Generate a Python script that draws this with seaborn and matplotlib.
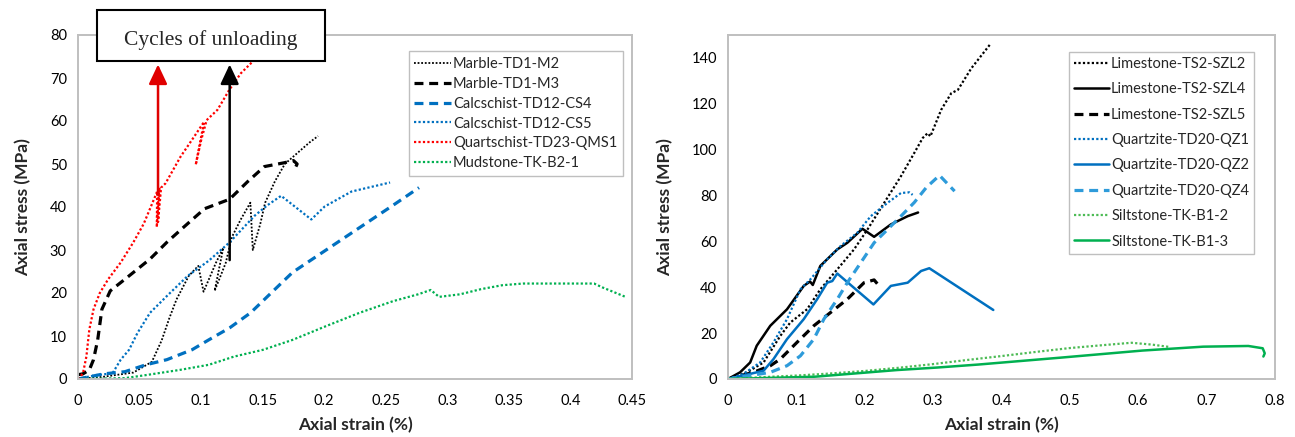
import numpy as np
import matplotlib
matplotlib.use("Agg")
import matplotlib.pyplot as plt
import seaborn as sns
from matplotlib.patches import Rectangle
from matplotlib.ticker import FuncFormatter

# ---- left panel: strain (%) / stress (MPa) ----
m2_strain = [0, 0.02, 0.045, 0.06, 0.068, 0.074, 0.08, 0.09, 0.0977, 0.102, 0.112, 0.118, 0.111,
             0.12, 0.125, 0.132, 0.14, 0.142, 0.148, 0.152, 0.16, 0.168, 0.178, 0.188, 0.195]
m2_stress = [0, 0.5, 1.5, 4, 9, 14, 18.5, 24, 26.3, 20.3, 27, 30.5, 20.5,
             27, 33, 37, 41, 30, 36, 41, 46, 50, 52.5, 55, 56.5]

m3_strain = [0, 0.004, 0.0092, 0.0126, 0.016, 0.0194, 0.0262, 0.0381, 0.0585, 0.0722, 0.0858,
             0.1028, 0.1231, 0.1378, 0.1514, 0.1677, 0.175, 0.178, 0.176]
m3_stress = [1.0, 1.2, 2.1, 4.5, 9.1, 16.2, 20.5, 23.2, 27.9, 31.8, 35.3,
             39.6, 41.8, 45.9, 49.4, 50.3, 50.8, 50.0, 48.8]

cs4_strain = [0, 0.0211, 0.0381, 0.0551, 0.0722, 0.0926, 0.1062, 0.1232, 0.1402, 0.1572,
              0.1743, 0.1947, 0.2151, 0.2355, 0.2559, 0.2770]
cs4_stress = [0, 1.2, 1.7, 3.3, 4.5, 6.8, 9.1, 11.9, 15.4, 20.1,
              24.8, 28.7, 32.6, 36.5, 40.4, 44.5]

cs5_strain = [0, 0.0143, 0.028, 0.0347, 0.0415, 0.0483, 0.0585, 0.0722, 0.0892, 0.1062, 0.1232,
              0.1436, 0.1538, 0.165, 0.1895, 0.2003, 0.2222, 0.2535]
cs5_stress = [0, 0.9, 1.3, 4.5, 6.8, 10.7, 15.4, 19.3, 24.0, 27.5, 31.8,
              38.0, 40.4, 42.6, 37.1, 40.1, 43.6, 45.7]

qms1_strain = [0, 0.004, 0.0068, 0.0092, 0.0126, 0.0177, 0.0245, 0.0347, 0.045, 0.0534, 0.0585,
               0.0643, 0.064, 0.0655, 0.0662, 0.065, 0.0675, 0.0711, 0.0833, 0.0942, 0.1024,
               0.0956, 0.1, 0.1045, 0.1133, 0.1228, 0.1323, 0.1432, 0.152]
qms1_stress = [0, 1.3, 5.2, 11.5, 16.2, 20.0, 23.2, 27.1, 31.8, 36.1, 39.6,
               43.6, 35.3, 42.5, 44.5, 36.5, 44.5, 45.5, 51.7, 56.3, 59.8,
               49.8, 55.5, 60.2, 62.6, 67.2, 71.1, 74.2, 76.5]

b21_strain = [0, 0.038, 0.055, 0.0824, 0.1062, 0.1266, 0.1504, 0.1743, 0.2015, 0.2287, 0.2559,
              0.2763, 0.2865, 0.2933, 0.3104, 0.3274, 0.3444, 0.3614, 0.4192, 0.426, 0.4447]
b21_stress = [0, 0.2, 0.9, 2.1, 3.3, 5.2, 6.8, 9.1, 12.3, 15.4, 18.1,
              19.7, 20.7, 19.1, 19.7, 20.9, 21.8, 22.2, 22.2, 21.3, 19.1]

# ---- right panel ----
szl2_strain = [0, 0.0275, 0.052, 0.0765, 0.091, 0.1157, 0.135, 0.1598, 0.1843, 0.204, 0.2284,
               0.2529, 0.2725, 0.2848, 0.292, 0.296, 0.3118, 0.3265, 0.3363, 0.3559, 0.3828]
szl2_stress = [0, 2.9, 7.2, 18.8, 24.6, 30.4, 39.1, 47.8, 56.5, 65.2, 76.8,
               88.4, 98.6, 105.1, 107.2, 105.8, 117.4, 124.6, 126.1, 135.5, 145.7]

szl4_strain = [0, 0.0176, 0.0324, 0.042, 0.0618, 0.0863, 0.1108, 0.12, 0.124, 0.135, 0.1598,
               0.1745, 0.1966, 0.2137, 0.2382, 0.2628, 0.2780]
szl4_stress = [0, 2.9, 7.2, 14.5, 23.2, 30.4, 40.6, 42.5, 41.0, 49.3, 56.5,
               59.4, 65.5, 62.0, 67.4, 71.0, 72.6]

szl5_strain = [0, 0.037, 0.062, 0.0765, 0.101, 0.1255, 0.15, 0.1745, 0.199, 0.2137, 0.221]
szl5_stress = [0, 2.9, 5.8, 8.7, 16.0, 23.2, 29.0, 34.8, 42.0, 43.2, 40.6]

qz1_strain = [0, 0.0225, 0.047, 0.0666, 0.0863, 0.1059, 0.1206, 0.1451, 0.1647, 0.1892,
              0.2088, 0.2333, 0.2529, 0.2652, 0.2700]
qz1_stress = [0, 2.2, 7.2, 16.0, 26.1, 39.1, 43.5, 52.2, 58.0, 63.8,
              71.0, 76.8, 81.1, 81.4, 80.3]

qz2_strain = [0, 0.052, 0.0666, 0.0863, 0.1108, 0.1304, 0.1451, 0.1525, 0.1598, 0.2127,
              0.2382, 0.2628, 0.2824, 0.2944, 0.3880]
qz2_stress = [0, 3.6, 8.7, 17.4, 26.1, 34.8, 42.0, 42.7, 46.0, 32.5,
              40.6, 42.0, 47.1, 48.3, 30.1]

qz4_strain = [0, 0.0618, 0.0863, 0.1059, 0.1255, 0.1402, 0.1598, 0.1745, 0.1941, 0.2137,
              0.2333, 0.2529, 0.2725, 0.2900, 0.3093, 0.3314]
qz4_stress = [0, 2.9, 5.8, 10.1, 17.4, 26.1, 34.8, 42.0, 50.7, 59.4,
              65.2, 71.0, 77.0, 83.5, 88.8, 81.9]

b12_strain = [0, 0.05, 0.1, 0.15, 0.2, 0.25, 0.3, 0.35, 0.4, 0.45, 0.5, 0.55, 0.59, 0.62, 0.645]
b12_stress = [0, 0.8, 1.5, 2.4, 3.5, 4.9, 6.5, 8.3, 10.0, 11.8, 13.5, 14.8, 15.8, 15.0, 14.0]

b13_strain = [0, 0.127, 0.247, 0.306, 0.366, 0.486, 0.606, 0.695, 0.761, 0.782, 0.785, 0.783]
b13_stress = [0, 1.0, 3.9, 5.0, 6.3, 9.3, 12.4, 14.1, 14.4, 13.4, 11.2, 9.8]

DOT = (0, (1, 1))
DASH = (0, (2.8, 1.8))
BLUE = "#0070C0"
LBLUE = "#2E9BDA"
GREEN = "#00B050"
RED = "#FF0000"
GRAY = "#BFBFBF"

sns.set_style("white")
plt.rcParams["font.family"] = ["Lato", "DejaVu Sans"]

fig = plt.figure(figsize=(12.95, 4.37), dpi=100)
ax1 = fig.add_axes([78 / 1295, 1 - 379 / 437, 554 / 1295, 344 / 437])
ax2 = fig.add_axes([728 / 1295, 1 - 379 / 437, 547 / 1295, 344 / 437])

left_series = [
    (m2_strain, m2_stress, "Marble-TD1-M2", "black", DOT, 1.3),
    (m3_strain, m3_stress, "Marble-TD1-M3", "black", DASH, 2.3),
    (cs4_strain, cs4_stress, "Calcschist-TD12-CS4", BLUE, DASH, 2.3),
    (cs5_strain, cs5_stress, "Calcschist-TD12-CS5", BLUE, DOT, 1.6),
    (qms1_strain, qms1_stress, "Quartschist-TD23-QMS1", RED, DOT, 1.6),
    (b21_strain, b21_stress, "Mudstone-TK-B2-1", GREEN, DOT, 1.6),
]
right_series = [
    (szl2_strain, szl2_stress, "Limestone-TS2-SZL2", "black", DOT, 1.6),
    (szl4_strain, szl4_stress, "Limestone-TS2-SZL4", "black", "-", 1.8),
    (szl5_strain, szl5_stress, "Limestone-TS2-SZL5", "black", DASH, 2.3),
    (qz1_strain, qz1_stress, "Quartzite-TD20-QZ1", BLUE, DOT, 1.6),
    (qz2_strain, qz2_stress, "Quartzite-TD20-QZ2", BLUE, "-", 1.8),
    (qz4_strain, qz4_stress, "Quartzite-TD20-QZ4", LBLUE, DASH, 2.3),
    (b12_strain, b12_stress, "Siltstone-TK-B1-2", "#4DBB55", DOT, 1.6),
    (b13_strain, b13_stress, "Siltstone-TK-B1-3", GREEN, "-", 1.8),
]

for ax, series in [(ax1, left_series), (ax2, right_series)]:
    for xs, ys, name, col, ls, lw in series:
        sns.lineplot(x=xs, y=ys, ax=ax, sort=False, estimator=None, color=col,
                     linestyle=ls, linewidth=lw, label=name)

fmt = FuncFormatter(lambda v, p: f"{v:g}")
for ax in (ax1, ax2):
    for s in ax.spines.values():
        s.set_color(GRAY)
        s.set_linewidth(1.4)
    ax.tick_params(axis="both", direction="in", length=3, width=0.8, color="#D9D9D9",
                   labelsize=10.5, labelcolor="black")
    ax.tick_params(axis="x", pad=11)
    ax.tick_params(axis="y", pad=8)
    ax.xaxis.set_major_formatter(fmt)
    ax.set_xlabel("Axial strain (%)", fontsize=12.5, fontweight="bold", labelpad=6)
    ax.set_ylabel("Axial stress (MPa)", fontsize=12.5, fontweight="bold", labelpad=13)
    ax.grid(False)

ax1.set_xlim(0, 0.45)
ax1.set_ylim(0, 80)
ax1.set_xticks(np.arange(0, 0.451, 0.05))
ax1.set_yticks(np.arange(0, 81, 10))

ax2.set_xlim(0, 0.8)
ax2.set_ylim(0, 150)
ax2.set_xticks(np.arange(0, 0.81, 0.1))
ax2.set_yticks(np.arange(0, 141, 20))

leg1 = ax1.legend(loc="upper right", bbox_to_anchor=(0.984, 0.953), borderaxespad=0,
                  fontsize=10.5, handlelength=2.5, handletextpad=0.15, labelspacing=0.4,
                  fancybox=False, framealpha=1, edgecolor=GRAY, borderpad=0.4)
leg2 = ax2.legend(loc="upper right", bbox_to_anchor=(0.962, 0.951), borderaxespad=0,
                  fontsize=10.5, handlelength=2.4, handletextpad=0.15, labelspacing=0.78,
                  fancybox=False, framealpha=1, edgecolor=GRAY, borderpad=0.35)
for leg in (leg1, leg2):
    leg.get_frame().set_linewidth(1.0)

# unloading arrows and label box
arrow_kw = dict(arrowstyle="-|>,head_width=0.4,head_length=0.85", lw=1.8, mutation_scale=14)
ax1.annotate("", xy=(0.065, 73.8), xytext=(0.065, 42.2),
             arrowprops=dict(color="#E00000", **arrow_kw), annotation_clip=False)
ax1.annotate("", xy=(0.1232, 73.8), xytext=(0.1232, 27.0),
             arrowprops=dict(color="black", **arrow_kw), annotation_clip=False)

box = Rectangle((97 / 1295, 1 - 61 / 437), 228 / 1295, 51 / 437, transform=fig.transFigure,
                facecolor="white", edgecolor="black", linewidth=1.5, zorder=10)
fig.patches.append(box)
fig.text(211 / 1295, 1 - 40 / 437, "Cycles of unloading", ha="center", va="center",
         fontsize=15.5, family=["Liberation Serif", "DejaVu Serif"], zorder=11)

fig.savefig("out.png", dpi=100)
